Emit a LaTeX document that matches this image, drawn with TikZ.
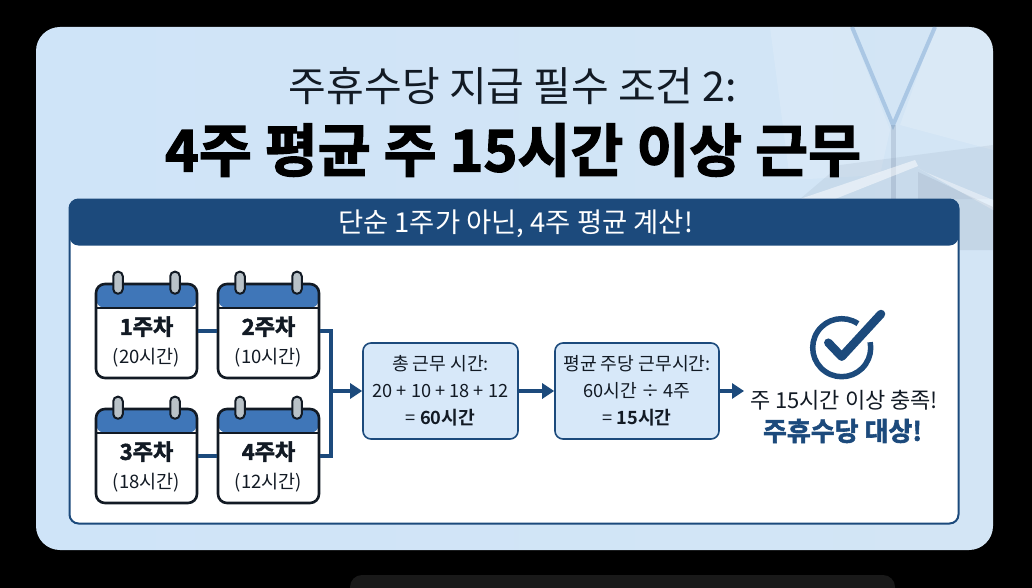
\documentclass[tikz,border=0pt]{standalone}
\usepackage{fontspec}
\setmainfont{Noto Sans CJK KR}
\newfontfamily\krbold{Noto Sans CJK KR Bold}
\newfontfamily\krheavy[FakeBold=2.2]{Noto Sans CJK KR Bold}
\usetikzlibrary{arrows.meta,calc}

\definecolor{navy}{HTML}{1C4A7C}
\definecolor{calBlue}{HTML}{3F76B8}
\definecolor{calLine}{HTML}{121A24}
\definecolor{ringGrey}{HTML}{B9C2C8}
\definecolor{cardLeft}{HTML}{CFE4F8}
\definecolor{cardRight}{HTML}{D3E5F5}
\definecolor{flowBlue}{HTML}{D7E8F9}

\newcommand{\calrings}[1]{%
  \node[ring] (#1L) at ([xshift=-28.5pt]#1.north) {};
  \node[ring] (#1R) at ([xshift=28.5pt]#1.north) {};}
\newcommand{\caltext}[2]{{\krheavy\fontsize{22}{29}\selectfont #1}\\(#2)}

\begin{document}
\begin{tikzpicture}[x=1pt,y=1pt,>={Triangle[length=12pt,width=15pt]}]
  \tikzstyle{calendar} = [draw=calLine, line width=2.6pt, fill=white, rectangle, rounded corners=9pt, minimum width=101pt, minimum height=94pt, inner sep=0pt, node distance=122pt,
    path picture={\fill[calBlue] (path picture bounding box.north west) rectangle ([yshift=-24pt]path picture bounding box.north east);
      \draw[calLine, line width=2.6pt] ([yshift=-24pt]path picture bounding box.north west) -- ([yshift=-24pt]path picture bounding box.north east);}];
  \tikzstyle{ring} = [draw=calLine, line width=2pt, fill=ringGrey, rectangle, rounded corners=4.5pt, minimum width=9.5pt, minimum height=22pt, inner sep=0pt];
  \tikzstyle{calLabel} = [align=center, inner sep=0pt, text=calLine, font={\fontsize{18.5}{29}\selectfont}, node distance=11pt];
  \tikzstyle{flowBox} = [draw=navy, line width=1.6pt, fill=flowBlue, rectangle, rounded corners=8pt, minimum height=96pt, inner sep=0pt, align=center, text=calLine, font={\fontsize{18.2}{27}\selectfont}];
  \tikzstyle{flowEdge} = [navy, line width=3.4pt];
  \tikzstyle{flowArrow} = [flowEdge, ->];

  \path[use as bounding box, fill=black] (0,0) rectangle (1032,-588);
  \fill[black!90!white] (350,-575) [rounded corners=12pt] rectangle (895,-600);

  \node[rectangle, rounded corners=24pt, inner sep=0pt, minimum width=957pt, minimum height=523pt, left color=cardLeft, right color=cardRight] (card) at (514.5,-288.5) {};

  \begin{scope}
    \clip[rounded corners=24pt] (card.south west) rectangle (card.north east);
    \fill[white, opacity=0.14] (770,-27) -- (850,-27) -- (890,-130) -- (880,-175) -- (790,-180) -- cycle;
    \fill[white, opacity=0.16] (935,-27) -- (993,-27) -- (993,-150) -- (900,-125) -- cycle;
    \draw[calBlue!45!cardRight, opacity=0.6, line width=4pt] (852,-27) -- (893,-125) -- (935,-27);
    \draw[calBlue!40!gray, opacity=0.22, line width=5pt] (893,-125) -- (893,-199);
    \fill[calBlue!35!gray, opacity=0.1] (800,-199) -- (840,-165) -- (993,-145) -- (993,-199) -- cycle;
    \fill[white, opacity=0.5] (800,-199) -- (915,-160) -- (918,-166) -- (835,-199) -- cycle;
    \fill[white, opacity=0.4] (918,-168) -- (925,-172) -- (993,-200) -- (993,-210) -- cycle;
    \fill[calBlue!30!gray, opacity=0.14] (918,-172) -- (993,-207) -- (993,-250) -- (918,-250) -- cycle;
  \end{scope}

  \node[inner sep=0pt, text=calLine, font={\fontsize{41}{44}\selectfont}] (title) at (513,-86) {주휴수당 지급 필수 조건 2:};
  \node[inner sep=0pt, text=black, font={\krheavy\fontsize{57.5}{60}\selectfont}] (headline) [below of=title, node distance=64pt] {4주 평균 주 15시간 이상 근무};

  \node[draw=navy, line width=2pt, fill=white, rectangle, rounded corners=9pt, inner sep=0pt, minimum width=889pt, minimum height=324pt,
    path picture={\fill[navy] (path picture bounding box.north west) rectangle ([yshift=-46pt]path picture bounding box.north east);}] (panel) at (514,-361.5) {};
  \node[inner sep=0pt, text=white, font={\fontsize{27.4}{30}\selectfont}] (panelTitle) at (515.5,-224) {단순 1주가 아닌, 4주 평균 계산!};

  \node[calendar] (wkA) at (146.5,-331) {};
  \node[calendar] (wkB) [right of=wkA] {};
  \node[calendar] (wkC) [below of=wkA, node distance=125pt] {};
  \node[calendar] (wkD) [right of=wkC] {};
  \calrings{wkA}
  \calrings{wkB}
  \calrings{wkC}
  \calrings{wkD}

  \node[calLabel] (wkAlabel) [below of=wkA] {\caltext{1주차}{20시간}};
  \node[calLabel] (wkBlabel) [below of=wkB] {\caltext{2주차}{10시간}};
  \node[calLabel] (wkClabel) [below of=wkC] {\caltext{3주차}{18시간}};
  \node[calLabel] (wkDlabel) [below of=wkD] {\caltext{4주차}{12시간}};

  \node[flowBox, minimum width=155pt] (total) at (440.5,-391) {총 근무 시간:\\20 + 10 + 18 + 12\\= {\krbold 60시간}};
  \node[flowBox, minimum width=164pt] (average) at (637,-391) {평균 주당 근무시간:\\60시간 ÷ 4주\\= {\krbold 15시간}};

  \coordinate (merge) at (331,-391);
  \coordinate (resultIn) at (744,-391);

  \draw[flowEdge] (wkA) -- (wkB);
  \draw[flowEdge] (wkC) -- (wkD);
  \draw[flowEdge] (wkB) -| (merge);
  \draw[flowEdge] (wkD) -| (merge);
  \draw[flowArrow] (merge) -- (total);
  \draw[flowArrow] (total) -- (average);
  \draw[flowArrow] (average) -- (resultIn);

  \coordinate (tickCentre) at (841.7,-347.7);
  \draw[navy, line width=5.5pt] ($(tickCentre)+(56:29)$) arc[start angle=56, end angle=371, radius=29];
  \draw[navy, line width=8.5pt, line cap=round, line join=round] (828.3,-342.7) -- (841.7,-356.7) -- (881,-314);

  \node[inner sep=0pt, text=calLine, font={\fontsize{22}{26}\selectfont}] (resultTop) at (844,-400) {주 15시간 이상 충족!};
  \node[inner sep=0pt, text=navy, font={\krheavy\fontsize{26}{30}\selectfont}] (resultBottom) at (842.5,-431) {주휴수당 대상!};
\end{tikzpicture}
\end{document}
